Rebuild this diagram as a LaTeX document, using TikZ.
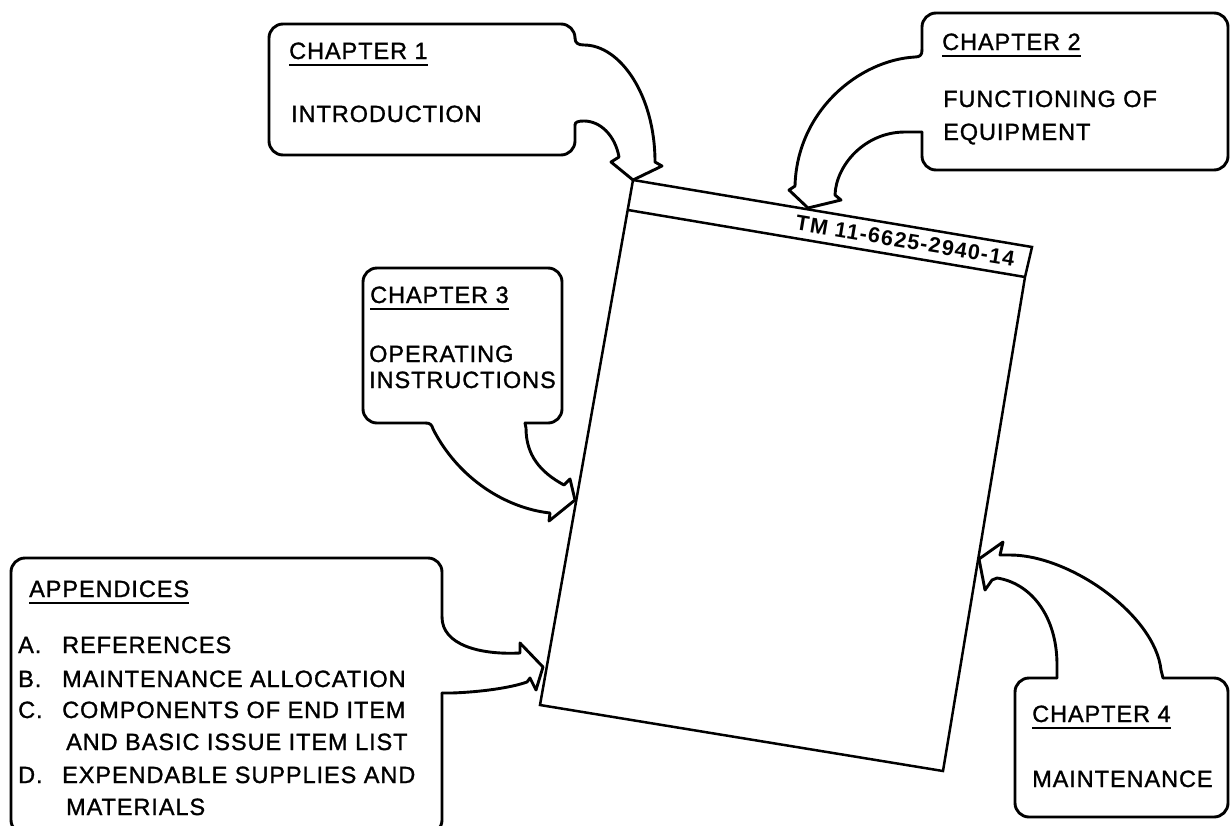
\documentclass[tikz,border=0pt]{standalone}
\usepackage{fontspec}
\newfontfamily\lblfont{Liberation Sans}[LetterSpace=4,FakeBold=1.2]
\newfontfamily\tmfont{Liberation Sans}[LetterSpace=6]
\tikzset{
  outline/.style={line width=2.9pt, line join=round, line cap=round},
  bookline/.style={line width=2.5pt, line join=miter},
  lbl/.style={anchor=base west, inner sep=0pt, font=\lblfont\fontsize{23.5}{27}\selectfont},
  uline/.style={line width=1.6pt},
  boxround/.style={outline, rounded corners=14pt}
}
\begin{document}
\begin{tikzpicture}[x=1pt,y=-1pt]
\useasboundingbox (0,0) rectangle (1230,825);
\clip (0,0) rectangle (1230,825);

% book
\coordinate (bTL) at (633,180);
\coordinate (bTR) at (1032,247);
\coordinate (bTRb) at (1025,277);
\coordinate (bBR) at (943,771);
\coordinate (bBL) at (540,705);
\coordinate (bandL) at (628,210);
\draw[bookline] (bTL) -- (bTR) -- (bTRb) -- (bBR) -- (bBL) -- cycle;
\draw[bookline] (bandL) -- (bTRb);
\node[rotate=-9.5, anchor=base, inner sep=0pt, font=\tmfont\bfseries\fontsize{21.5}{23}\selectfont] (tm) at (904,248) {TM 11-6625-2940-14};

% arrow tips
\coordinate (t2) at (808,208);
\coordinate (t3) at (575,500);
\coordinate (t4) at (543,667);
\coordinate (t5) at (979,559);

% Chapter 1
\draw[boxround] (575,125) -- (575,155) -- (269,155) -- (269,24) -- (575,24) -- (575,38);
\draw[outline] (575,38) .. controls (575,43) and (578,45) .. (584,45)
  .. controls (620,45) and (655,95) .. (655,162) -- (662,166) -- (bTL) -- (611,162) -- (619,157)
  .. controls (615,135) and (600,121) .. (584,121) .. controls (578,121) and (575,122) .. (575,125);
\node[lbl] (c1h) at (289,59) {CHAPTER 1};
\node[lbl] (c1t) at (291,122) {INTRODUCTION};
\draw[uline] ([yshift=-6pt]c1h.base west) -- ([yshift=-6pt]c1h.base east);

% Chapter 2
\draw[boxround] (922,132) -- (922,170) -- (1228,170) -- (1228,13) -- (922,13) -- (922,50);
\draw[outline] (922,50) .. controls (922,55) and (920,57) .. (915,57)
  .. controls (860,60) and (797,110) .. (795,186) -- (789,190) -- (t2) -- (841,200) -- (835,195)
  .. controls (836,165) and (865,132) .. (905,132) -- (922,132);
\node[lbl] (c2h) at (942,50) {CHAPTER 2};
\node[lbl] (c2a) at (943,107) {FUNCTIONING OF};
\node[lbl] (c2b) at (943,140) {EQUIPMENT};
\draw[uline] ([yshift=-6pt]c2h.base west) -- ([yshift=-6pt]c2h.base east);

% Chapter 3
\draw[boxround] (525,423) -- (562,423) -- (562,268) -- (363,268) -- (363,423) -- (426,423);
\draw[outline] (426,423) .. controls (430,423) and (432,425) .. (433,429)
  .. controls (458,478) and (505,508) .. (550,513) -- (549,521) -- (t3) -- (570,479) -- (564,485)
  .. controls (540,472) and (526,455) .. (526,428) .. controls (526,425) .. (525,423);
\node[lbl] (c3h) at (370,303) {CHAPTER 3};
\node[lbl] (c3a) at (369,362) {OPERATING};
\node[lbl] (c3b) at (369,388) {INSTRUCTIONS};
\draw[uline] ([yshift=-6pt]c3h.base west) -- ([yshift=-6pt]c3h.base east);

% Appendices
\draw[boxround] (442,617) -- (442,558) -- (11,558) -- (11,834) -- (442,834) -- (442,693);
\draw[outline] (442,693) -- (452,693) .. controls (480,692) and (510,688) .. (527,682)
  -- (530,678) -- (536,690) -- (t4) -- (520,643) -- (520,653)
  .. controls (480,655) and (442,645) .. (442,617);
\node[lbl] (aph) at (29,597) {APPENDICES};
\draw[uline] ([yshift=-6pt]aph.base west) -- ([yshift=-6pt]aph.base east);
\node[lbl] (apA) at (18,653) {A.};
\node[lbl] (apAt) at (62,653) {REFERENCES};
\node[lbl] (apB) at (18,687) {B.};
\node[lbl] (apBt) at (62,687) {MAINTENANCE ALLOCATION};
\node[lbl] (apC) at (18,718) {C.};
\node[lbl] (apCt) at (62,718) {COMPONENTS OF END ITEM};
\node[lbl] (apCu) at (66,750) {AND BASIC ISSUE ITEM LIST};
\node[lbl] (apD) at (18,783) {D.};
\node[lbl] (apDt) at (62,783) {EXPENDABLE SUPPLIES AND};
\node[lbl] (apDu) at (66,815) {MATERIALS};

% Chapter 4
\draw[boxround] (1163,678) -- (1228,678) -- (1228,817) -- (1015,817) -- (1015,678) -- (1057,678);
\draw[outline] (1057,678) -- (1057,665) .. controls (1057,615) and (1030,583) .. (997,578)
  -- (992,580) -- (985,590) -- (t5) -- (1003,542) -- (1000,555) -- (1010,555)
  .. controls (1070,555) and (1155,615) .. (1161,670) -- (1163,678);
\node[lbl] (c4h) at (1032,722) {CHAPTER 4};
\node[lbl] (c4t) at (1032,787) {MAINTENANCE};
\draw[uline] ([yshift=-6pt]c4h.base west) -- ([yshift=-6pt]c4h.base east);
\end{tikzpicture}
\end{document}
